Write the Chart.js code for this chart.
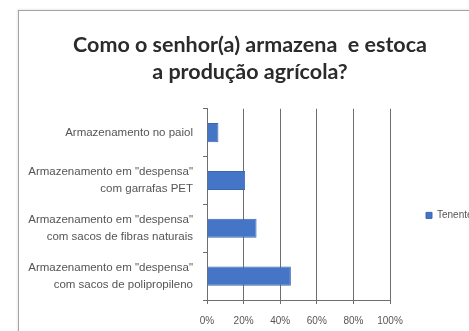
<!DOCTYPE html>
<html>
<head>
<meta charset="utf-8">
<script src="https://cdn.jsdelivr.net/npm/chart.js@4/dist/chart.umd.min.js"></script>
<style>
    html, body { margin: 0; padding: 0; background: #fff; overflow: hidden; }
    body { width: 469px; height: 331px; position: relative; }
    #moldura {
        position: absolute; left: 18px; top: 10px;
        width: 470px; height: 340px;
        border-left: 1px solid #a3a3a3; border-top: 1px solid #a3a3a3;
        box-shadow: -1px -1px 2px rgba(0,0,0,0.08);
    }
    #grafico { position: absolute; left: 19px; top: 11px; }
</style>
</head>
<body>
<div id="moldura"></div>
<canvas id="grafico" width="462" height="325"></canvas>
<script>
// Dados da pergunta sobre armazenamento
const categorias = [
    'Armazenamento no paiol',
    ['Armazenamento em "despensa"', 'com garrafas PET'],
    ['Armazenamento em "despensa"', 'com sacos de fibras naturais'],
    ['Armazenamento em "despensa"', 'com sacos de polipropileno']
];
const valores = [6.25, 20.83, 27.08, 45.83];
const marcasEixo = [0, 20, 40, 60, 80, 100];
const serie = 'Tenente Portela';

const cinzaGrade = '#6e6e6e';

const ctx = document.getElementById('grafico').getContext('2d');
new Chart(ctx, {
    type: 'bar',
    data: {
        labels: categorias,
        datasets: [{
            label: serie,
            data: valores,
            backgroundColor: '#4575c6',
            borderColor: '#3b66b0',
            borderWidth: 1,
            barPercentage: 0.4,
            categoryPercentage: 1
        }]
    },
    options: {
        indexAxis: 'y',
        responsive: false,
        animation: false,
        layout: { padding: { left: 0, right: 0, top: 0, bottom: 0 } },
        plugins: {
            title: {
                display: true,
                text: ['Como o senhor(a) armazena  e estoca', 'a produção agrícola?'],
                color: '#2b2b2b',
                font: { family: 'Lato', size: 21.5, weight: 'bold', lineHeight: 1.25 },
                padding: { top: 21, bottom: 23 }
            },
            legend: {
                position: 'right',
                fullSize: false,
                maxWidth: 91,
                // título vazio só para baixar a legenda
                title: { display: true, text: '', font: { size: 10, lineHeight: 1.2 }, padding: { top: 5, bottom: 5 } },
                labels: {
                    boxWidth: 6,
                    boxHeight: 6,
                    padding: 36,
                    color: '#555',
                    font: { family: 'Liberation Sans', size: 10 }
                }
            },
            tooltip: { enabled: false }
        },
        scales: {
            x: {
                min: 0,
                max: 100,
                afterBuildTicks: (escala) => {
                    escala.ticks = marcasEixo.map(v => ({ value: v }));
                },
                afterFit: (escala) => { escala.height = 36; },
                ticks: {
                    callback: (v) => v + '%',
                    color: '#555',
                    padding: 11,
                    font: { family: 'Liberation Sans', size: 10 },
                    maxRotation: 0
                },
                grid: { color: cinzaGrade, lineWidth: 1, tickLength: 4 },
                border: { color: cinzaGrade }
            },
            y: {
                afterFit: (escala) => { escala.width = 188; },
                ticks: {
                    color: '#555',
                    padding: 10,
                    font: { family: 'Liberation Sans', size: 11.5, lineHeight: 1.5 }
                },
                grid: { drawOnChartArea: false, color: cinzaGrade, tickLength: 4 },
                border: { color: cinzaGrade }
            }
        }
    }
});
</script>
</body>
</html>
